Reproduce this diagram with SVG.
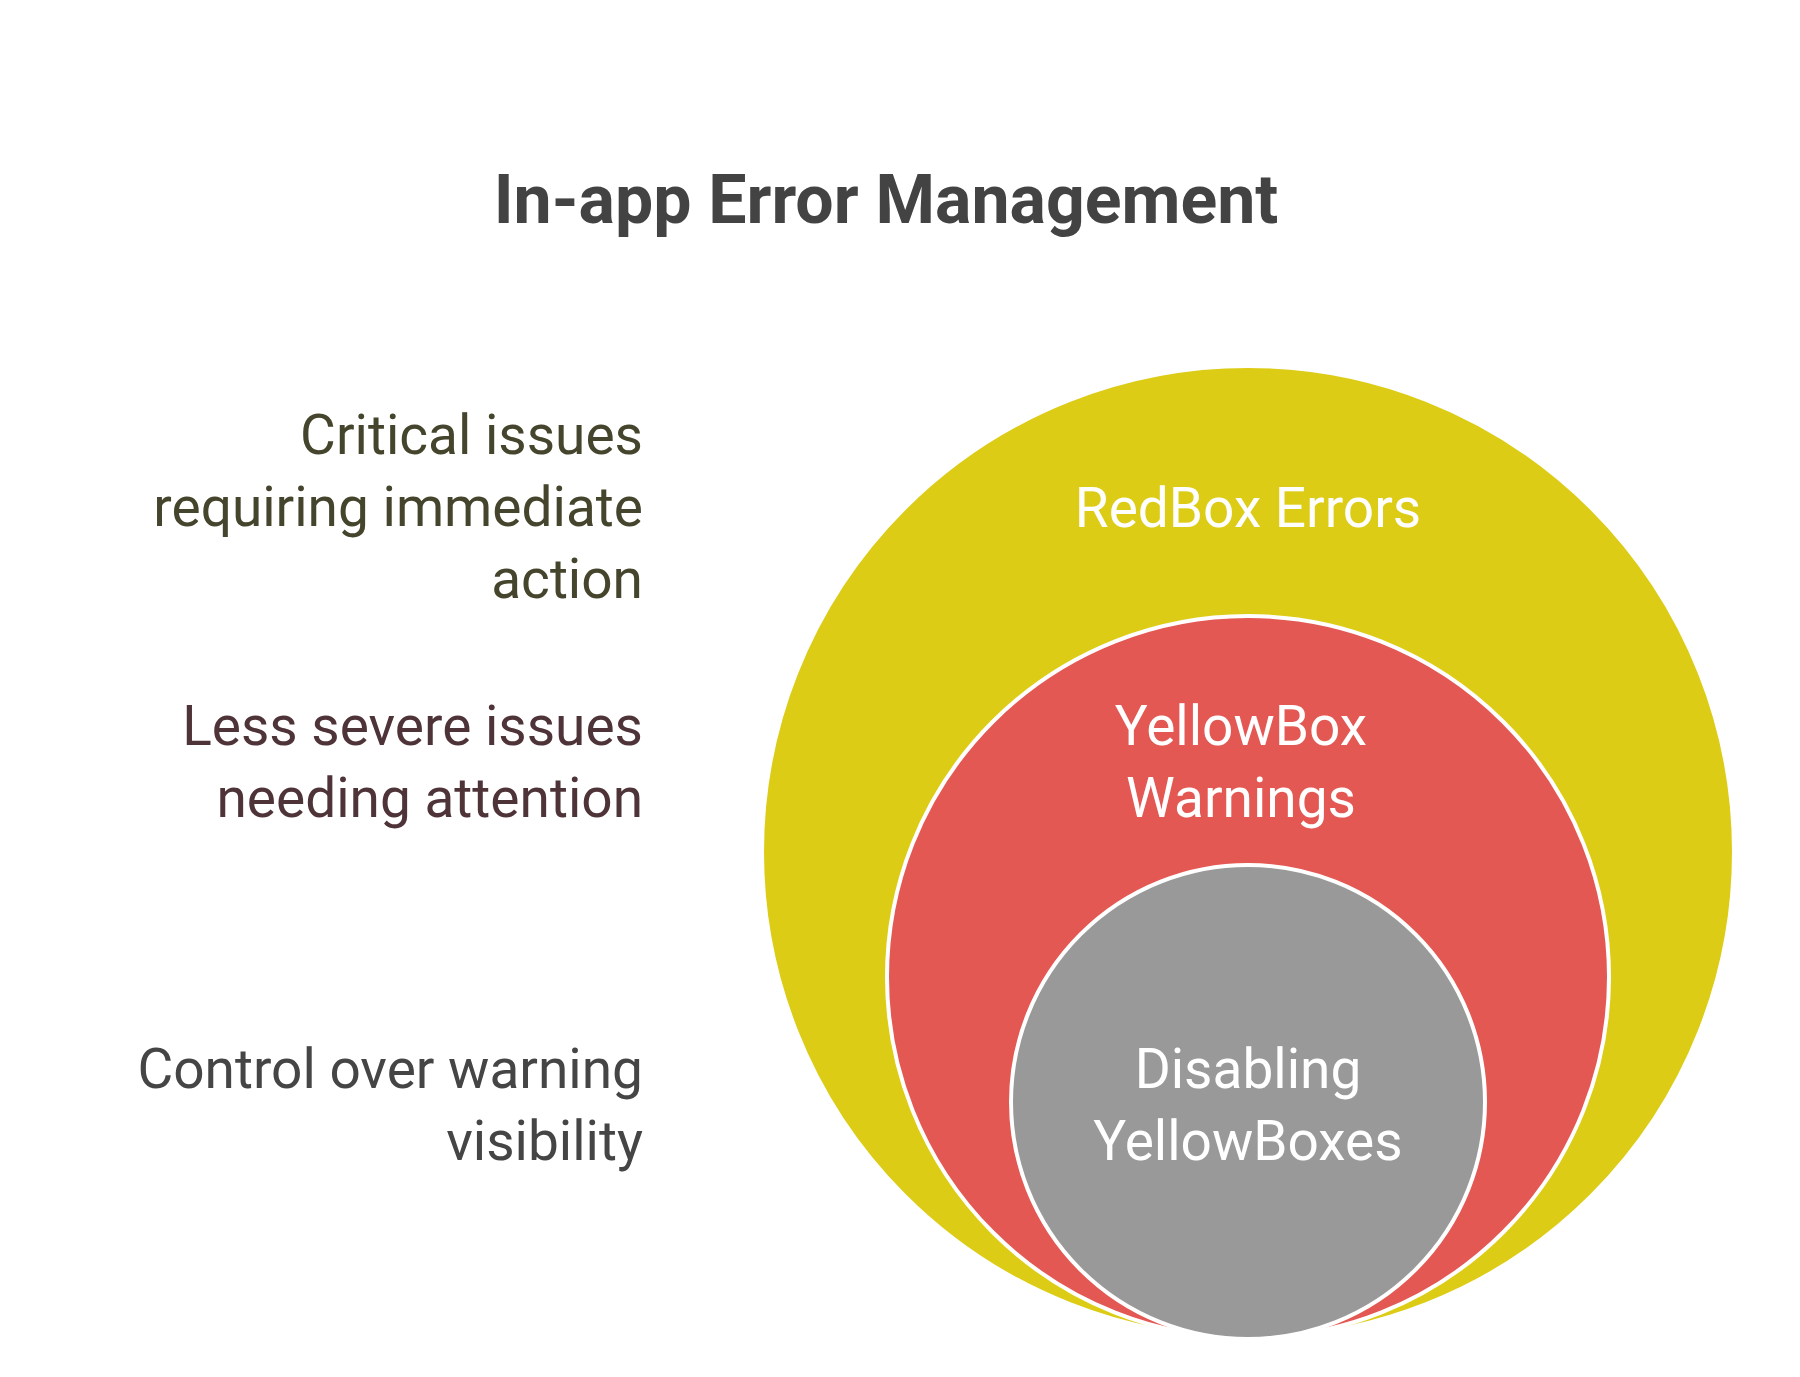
<svg xmlns="http://www.w3.org/2000/svg" width="1800" height="1377" viewBox="0 0 1800 1377">
<style>
text{font-family:Roboto,"Liberation Sans",sans-serif}
.side{font-size:55px;text-anchor:end}
.lbl{font-size:55px;text-anchor:middle;fill:#fff}
.c{stroke:#fff;stroke-width:4}
</style>
<rect width="1800" height="1377" fill="#fff"/>
<text x="886" y="223" font-size="68" font-weight="bold" text-anchor="middle" fill="#434343">In-app Error Management</text>
<g id="redbox">
<circle class="c" cx="1248" cy="852" r="486" fill="#DDCC15" stroke="none"/>
<text class="lbl" x="1248" y="527">RedBox Errors</text>
</g>
<g id="yellowbox">
<circle class="c" cx="1248" cy="977" r="361" fill="#E45853"/>
<text class="lbl" x="1241" y="745">YellowBox</text>
<text class="lbl" x="1241" y="817">Warnings</text>
</g>
<g id="disabling">
<circle class="c" cx="1248" cy="1102" r="237" fill="#999999"/>
<text class="lbl" x="1248" y="1088">Disabling</text>
<text class="lbl" x="1248" y="1160">YellowBoxes</text>
</g>
<g id="desc-redbox" class="side" fill="#45442C">
<text class="side" x="643" y="454">Critical issues</text>
<text class="side" x="643" y="526">requiring immediate</text>
<text class="side" x="643" y="598">action</text>
</g>
<g id="desc-yellowbox" fill="#4E3438">
<text class="side" x="643" y="745">Less severe issues</text>
<text class="side" x="643" y="817">needing attention</text>
</g>
<g id="desc-disabling" fill="#454545">
<text class="side" x="643" y="1088">Control over warning</text>
<text class="side" x="643" y="1160">visibility</text>
</g>
<g id="connectors"></g>
</svg>
